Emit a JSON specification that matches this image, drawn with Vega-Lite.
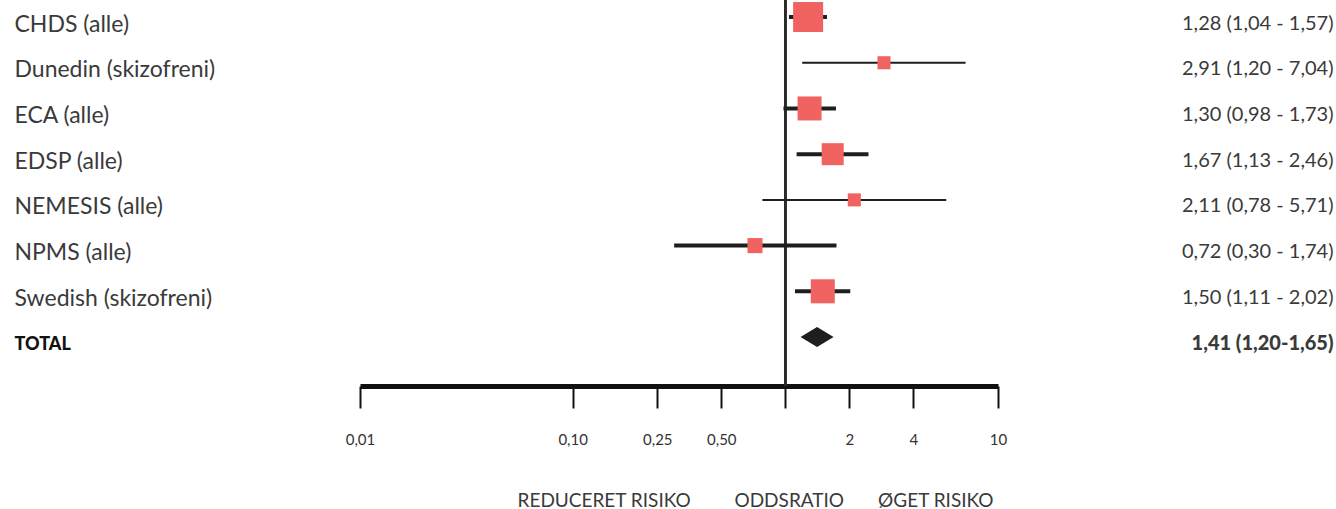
{
  "$schema": "https://vega.github.io/schema/vega-lite/v6.json",
  "width": 638,
  "height": 386,
  "autosize": {"type": "none"},
  "padding": {"left": 360, "top": 0, "right": 338, "bottom": 123},
  "background": "white",
  "config": {"view": {"stroke": null}, "font": "Lato"},
  "data": {
    "values": [
      {"study": "CHDS (alle)", "or": 1.28, "lower": 1.04, "upper": 1.57, "weight": 29.0, "ci": "1,28 (1,04 - 1,57)"},
      {"study": "Dunedin (skizofreni)", "or": 2.91, "lower": 1.20, "upper": 7.04, "weight": 5.5, "ci": "2,91 (1,20 - 7,04)"},
      {"study": "ECA (alle)", "or": 1.30, "lower": 0.98, "upper": 1.73, "weight": 18.6, "ci": "1,30 (0,98 - 1,73)"},
      {"study": "EDSP (alle)", "or": 1.67, "lower": 1.13, "upper": 2.46, "weight": 15.6, "ci": "1,67 (1,13 - 2,46)"},
      {"study": "NEMESIS (alle)", "or": 2.11, "lower": 0.78, "upper": 5.71, "weight": 5.5, "ci": "2,11 (0,78 - 5,71)"},
      {"study": "NPMS (alle)", "or": 0.72, "lower": 0.30, "upper": 1.74, "weight": 7.3, "ci": "0,72 (0,30 - 1,74)"},
      {"study": "Swedish (skizofreni)", "or": 1.50, "lower": 1.11, "upper": 2.02, "weight": 18.6, "ci": "1,50 (1,11 - 2,02)"},
      {"study": "TOTAL", "or": 1.41, "lower": 1.20, "upper": 1.65, "weight": 100, "ci": "1,41 (1,20-1,65)"}
    ]
  },
  "resolve": {"scale": {"y": "independent"}},
  "layer": [
    {
      "mark": {"type": "rule", "color": "#2a2a2a", "strokeWidth": 2},
      "encoding": {
        "x": {"datum": 1, "type": "quantitative", "scale": {"type": "log", "domain": [0.01, 10], "nice": false}}
      }
    },
    {
      "mark": {"type": "rule", "color": "#1e1e1e"},
      "encoding": {
        "y": {
          "field": "ci", "type": "nominal", "sort": null,
          "scale": {"type": "point", "padding": 0.722, "align": 0.258},
          "axis": {
            "orient": "right", "title": null, "domain": false, "ticks": false,
            "labelPadding": 335, "labelAlign": "right", "labelBaseline": "middle", "labelOffset": 6,
            "labelFontSize": 20, "labelColor": "#3a3a3a", "labelLimit": 400,
            "labelFontWeight": {"condition": {"test": "indexof(datum.value, '1,41') == 0", "value": 900}, "value": "normal"},
            "labelFont": "Lato"
          }
        },
        "x": {
          "field": "lower", "type": "quantitative",
          "scale": {"type": "log", "domain": [0.01, 10], "nice": false},
          "title": "REDUCERET RISIKO\u00a0\u00a0\u00a0\u00a0\u00a0\u00a0\u00a0\u00a0\u00a0ODDSRATIO\u00a0\u00a0\u00a0\u00a0\u00a0\u00a0\u00a0ØGET RISIKO",
          "axis": {
            "values": [0.01, 0.1, 0.25, 0.5, 1, 2, 4, 10],
            "labelExpr": "datum.value == 1 ? '' : replace(format(datum.value, datum.value < 1 ? '.2f' : 'd'), '.', ',')",
            "grid": false,
            "domainWidth": 5, "domainColor": "#111111",
            "tickWidth": 2, "tickColor": "#111111", "tickSize": 22,
            "labelPadding": 24, "labelFontSize": 15, "labelColor": "#333333",
            "labelFlush": false, "labelOverlap": false,
            "titleFontSize": 19, "titleColor": "#3a3a3a", "titleFontWeight": "normal",
            "titleAlign": "left", "titleAnchor": null, "titleX": 157, "titleY": 114, "titleBaseline": "middle"
          }
        },
        "x2": {"field": "upper"},
        "strokeWidth": {"condition": {"test": "datum.weight < 6", "value": 2}, "value": 4},
        "opacity": {"condition": {"test": "datum.study === 'TOTAL'", "value": 0}, "value": 1}
      }
    },
    {
      "mark": {"type": "point", "filled": true, "opacity": 1, "strokeWidth": 0},
      "encoding": {
        "y": {
          "field": "study", "type": "nominal", "sort": null,
          "scale": {"type": "point", "padding": 0.722, "align": 0.258},
          "axis": {
            "orient": "left", "title": null, "domain": false, "ticks": false,
            "labelPadding": 346, "labelAlign": "left", "labelBaseline": "middle", "labelOffset": 7,
            "labelFontSize": {"condition": {"test": "datum.value === 'TOTAL'", "value": 18}, "value": 23},
            "labelColor": {"condition": {"test": "datum.value === 'TOTAL'", "value": "#111111"}, "value": "#3a3a3a"},
            "labelFontWeight": {"condition": {"test": "datum.value === 'TOTAL'", "value": 900}, "value": "normal"},
            "labelLimit": 400, "labelFont": "Lato"
          }
        },
        "x": {
          "field": "or", "type": "quantitative",
          "scale": {"type": "log", "domain": [0.01, 10], "nice": false},
          "title": "REDUCERET RISIKO\u00a0\u00a0\u00a0\u00a0\u00a0\u00a0\u00a0\u00a0\u00a0ODDSRATIO\u00a0\u00a0\u00a0\u00a0\u00a0\u00a0\u00a0ØGET RISIKO"
        },
        "size": {
          "field": "weight", "type": "quantitative",
          "scale": {"domain": [0, 29], "range": [0, 900], "zero": true},
          "legend": null,
          "condition": {"test": "datum.study === 'TOTAL'", "value": 1089}
        },
        "shape": {"condition": {"test": "datum.study === 'TOTAL'", "value": "M-1,0L0,-0.6L1,0L0,0.6Z"}, "value": "square"},
        "color": {"condition": {"test": "datum.study === 'TOTAL'", "value": "#1e1e1e"}, "value": "#f06360"}
      }
    }
  ]
}
